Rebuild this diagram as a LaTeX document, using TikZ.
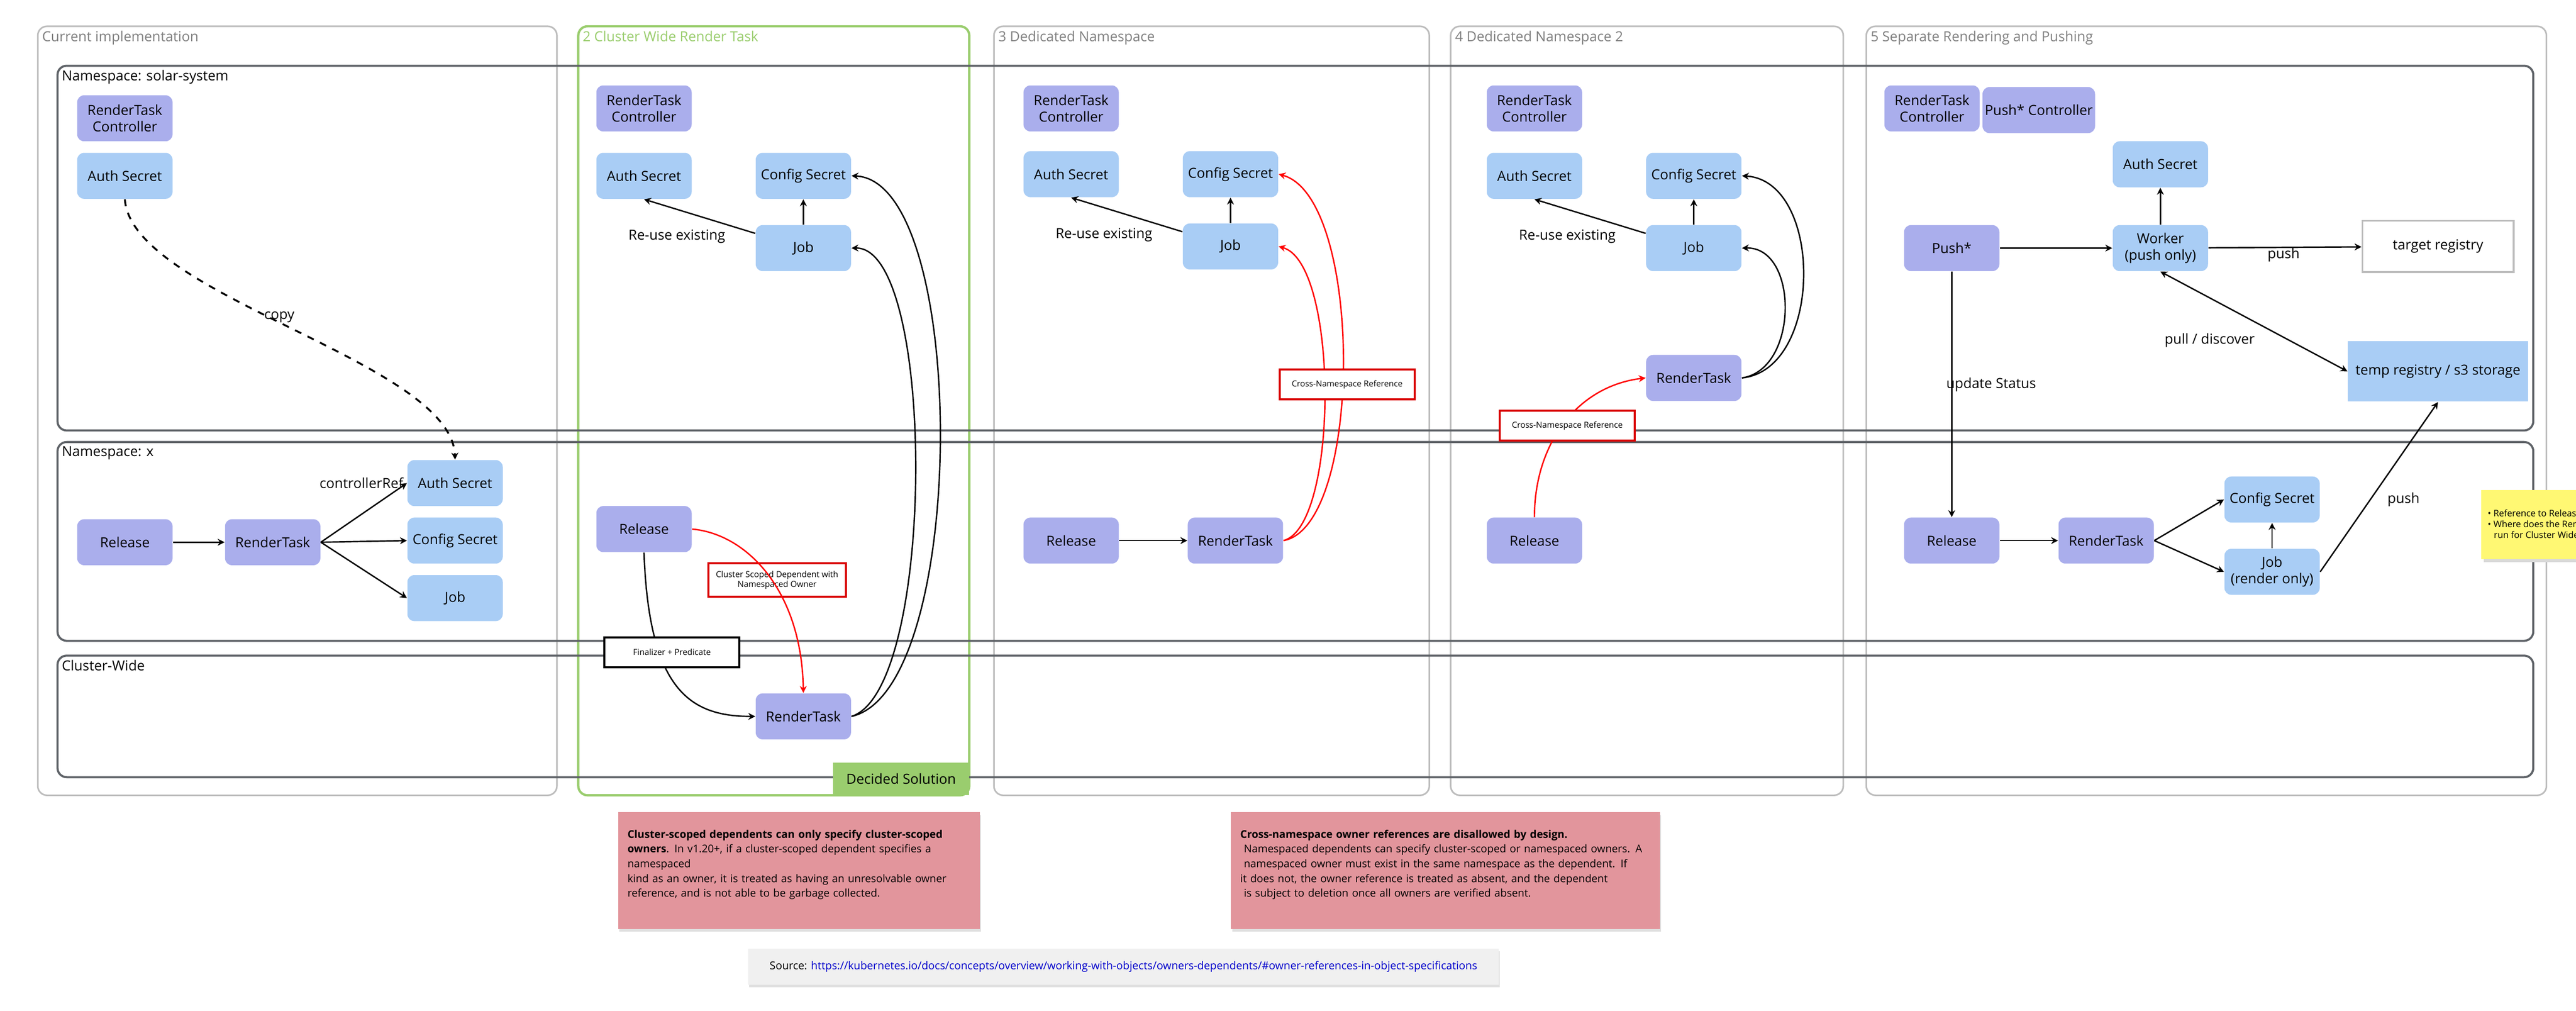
\documentclass[tikz,border=0pt]{standalone}
\usepackage{fontspec}
\setmainfont{Open Sans}
\usetikzlibrary{arrows.meta,positioning}
\definecolor{purp}{HTML}{AAAEEC}
\definecolor{blu}{HTML}{A9CDF5}
\definecolor{pinkbox}{HTML}{E2959C}
\definecolor{frame}{HTML}{BDBDBD}
\definecolor{band}{HTML}{5F6368}
\definecolor{okgreen}{HTML}{9ACD6E}
\tikzset{
  res/.style={rounded corners=3pt,minimum width=1.45cm,minimum height=0.7cm,align=center,font=\fontsize{6}{7}\selectfont,inner sep=1pt},
  ctrl/.style={res,fill=purp},
  obj/.style={res,fill=blu},
  lbl/.style={font=\fontsize{6}{7}\selectfont},
  tag/.style={draw=#1,line width=0.9pt,fill=white,minimum width=2.05cm,minimum height=0.45cm,align=center,font=\fontsize{3.6}{4.3}\selectfont},
  arr/.style={-{Stealth[length=3pt,width=3pt]},line width=0.6pt},
  col/.style={draw=frame,rounded corners=4pt,line width=0.7pt},
  ns/.style={draw=band,rounded corners=4pt,line width=0.9pt},
  ttl/.style={anchor=north west,font=\fontsize{6}{7}\selectfont,inner sep=1pt,text=#1},
  ttl/.default=gray,
  remark/.style={anchor=north west,text width=#1,align=left,font=\fontsize{4.6}{6.4}\selectfont}
}
\begin{document}
\hyphenpenalty=10000
\begin{tikzpicture}[x=0.025cm,y=-0.025cm]
\useasboundingbox (0,0) rectangle (1568,615);

% columns
\draw[col] (23,16) rectangle (339,484);
\draw[col,draw=okgreen,line width=1pt] (352,16) rectangle (590,484);
\draw[col] (605,16) rectangle (870,484);
\draw[col] (883,16) rectangle (1122,484);
\draw[col] (1136,16) rectangle (1550,484);
\node[ttl] at (24,17) {Current implementation};
\node[ttl=okgreen] at (353,17) {2 Cluster Wide Render Task};
\node[ttl] at (606,17) {3 Dedicated Namespace};
\node[ttl] at (884,17) {4 Dedicated Namespace 2};
\node[ttl] at (1137,17) {5 Separate Rendering and Pushing};

% namespaces
\draw[ns] (35,40) rectangle (1542,262);
\draw[ns] (35,269) rectangle (1542,390);
\draw[ns] (35,399) rectangle (1542,473);
\node[ttl=black] at (36,41) {Namespace: solar-system};
\node[ttl=black] at (36,270) {Namespace: x};
\node[ttl=black] at (36,400) {Cluster-Wide};

\node[fill=okgreen,minimum width=2.07cm,minimum height=0.5cm,font=\fontsize{6}{7}\selectfont] (decided) at (548.5,474) {Decided Solution};

% 1 current implementation
\node[ctrl] (ctlA) at (76,72) {RenderTask\\Controller};
\node[obj] (authA) at (76,107) {Auth Secret};
\node[ctrl] (relA) at (76,330) {Release};
\node[ctrl] (rtA) at (166,330) {RenderTask};
\node[obj] (authXA) at (277,294) {Auth Secret};
\node[obj] (cfgA) at (277,329) {Config Secret};
\node[obj] (jobA) at (277,364) {Job};
\draw[arr] (relA) -- (rtA);
\draw[arr] (rtA.east) -- (authXA.west);
\draw[arr] (rtA.east) -- (cfgA.west);
\draw[arr] (rtA.east) -- (jobA.west);
\node[lbl] at (220,294) {controllerRef};
\draw[arr,dashed,line width=0.8pt] (authA.south) .. controls (80,180) and (275,220) .. (authXA.north);
\node[lbl] at (170,193) {copy};

% 2 cluster wide render task
\node[ctrl] (ctlB) at (392,66) {RenderTask\\Controller};
\node[obj] (authB) at (392,107) {Auth Secret};
\node[obj] (cfgB) at (489,107) {Config Secret};
\node[obj] (jobB) at (489,151) {Job};
\node[ctrl] (relB) at (392,322) {Release};
\node[ctrl] (rtB) at (489,436) {RenderTask};
\draw[arr] (jobB) -- (authB.south);
\node[lbl] at (412,144) {Re-use existing};
\draw[arr] (jobB) -- (cfgB);
\draw[arr] (rtB.east) .. controls (590,420) and (590,110) .. (cfgB.east);
\draw[arr] (rtB.east) .. controls (570,420) and (570,150) .. (jobB.east);
\draw[arr] (relB.south) .. controls (395,420) and (420,436) .. (rtB.west);
\node[tag=red!85!black] (scoped) at (473,353) {Cluster Scoped Dependent with\\Namespaced Owner};
\draw[arr,red] (relB.east) .. controls (455,325) and (488,360) .. (rtB.north);
\node[tag=black] (fin) at (409,397) {Finalizer + Predicate};

% 3 dedicated namespace
\node[ctrl] (ctlC) at (652,66) {RenderTask\\Controller};
\node[obj] (authC) at (652,106) {Auth Secret};
\node[obj] (cfgC) at (749,106) {Config Secret};
\node[obj] (jobC) at (749,150) {Job};
\node[ctrl] (relC) at (652,329) {Release};
\node[ctrl] (rtC) at (752,329) {RenderTask};
\draw[arr] (jobC) -- (authC.south);
\node[lbl] at (672,143) {Re-use existing};
\draw[arr] (jobC) -- (cfgC);
\draw[arr] (relC) -- (rtC);
\draw[arr,red] (rtC.east) .. controls (830,320) and (830,120) .. (cfgC.east);
\draw[arr,red] (rtC.east) .. controls (815,320) and (815,160) .. (jobC.east);
\node[tag=red!85!black] (xnsC) at (820,234) {Cross-Namespace Reference};

% 4 dedicated namespace 2
\node[ctrl] (ctlD) at (934,66) {RenderTask\\Controller};
\node[obj] (authD) at (934,107) {Auth Secret};
\node[obj] (cfgD) at (1031,107) {Config Secret};
\node[obj] (jobD) at (1031,151) {Job};
\node[ctrl] (rtD) at (1031,230) {RenderTask};
\node[ctrl] (relD) at (934,329) {Release};
\draw[arr] (jobD) -- (authD.south);
\node[lbl] at (954,144) {Re-use existing};
\draw[arr] (jobD) -- (cfgD);
\draw[arr] (rtD.east) .. controls (1110,225) and (1110,110) .. (cfgD.east);
\draw[arr] (rtD.east) .. controls (1095,225) and (1095,150) .. (jobD.east);
\draw[arr,red] (relD.north) .. controls (934,270) and (960,235) .. (rtD.west);
\node[tag=red!85!black] (xnsD) at (954,259) {Cross-Namespace Reference};

% 5 separate rendering and pushing
\node[ctrl] (ctlE) at (1176,66) {RenderTask\\Controller};
\node[ctrl] (pctl) at (1241,67) {Push* Controller};
\node[obj] (authE) at (1315,100) {Auth Secret};
\node[ctrl] (push) at (1188,151) {Push*};
\node[obj] (worker) at (1315,151) {Worker\\(push only)};
\node[draw=frame,line width=0.8pt,minimum width=2.3cm,minimum height=0.78cm,font=\fontsize{6}{7}\selectfont] (target) at (1484,150) {target registry};
\node[fill=blu,minimum width=2.45cm,minimum height=0.92cm,font=\fontsize{6}{7}\selectfont] (temp) at (1484,226) {temp registry / s3 storage};
\node[ctrl] (relE) at (1188,329) {Release};
\node[ctrl] (rtE) at (1282,329) {RenderTask};
\node[obj] (cfgE) at (1383,304) {Config Secret};
\node[obj] (jobE) at (1383,348) {Job\\(render only)};
\draw[arr] (push) -- (worker);
\draw[arr] (worker) -- (authE);
\draw[arr] (worker) -- (target);
\node[lbl] at (1390,155) {push};
\draw[{Stealth[length=3pt,width=3pt]}-{Stealth[length=3pt,width=3pt]},line width=0.6pt] (worker.south) -- (temp.west);
\node[lbl] at (1345,207) {pull / discover};
\draw[arr] (push) -- (relE);
\node[lbl] at (1212,234) {update Status};
\draw[arr] (relE) -- (rtE);
\draw[arr] (rtE.east) -- (cfgE.west);
\draw[arr] (rtE.east) -- (jobE.west);
\draw[arr] (jobE) -- (cfgE);
\draw[arr] (jobE.east) -- (temp.south);
\node[lbl] at (1463,304) {push};

% sticky note
\fill[black!15] (1512,300) rectangle (1570,342);
\node[fill=yellow!55,minimum width=1.45cm,minimum height=1.05cm,anchor=north west,inner sep=0pt] (note) at (1510,298) {};
\node[anchor=west,align=left,font=\fontsize{3.9}{4.7}\selectfont,inner sep=0pt] at (1514,319) {\textbullet\ Reference to Release?\\\textbullet\ Where does the Render Jo\\\ \ \,run for Cluster Wide API?};

% remarks
\fill[black!12] (377,496) rectangle (597,567);
\node[fill=pinkbox,minimum width=5.5cm,minimum height=1.775cm,anchor=north west,inner sep=0pt] (remA) at (376,494) {};
\node[remark=5.4cm] at (377,500) {\textbf{Cluster-scoped dependents can only specify cluster-scoped owners}. In v1.20+, if a cluster-scoped dependent specifies a namespaced\\kind as an owner, it is treated as having an unresolvable owner reference, and is not able to be garbage collected.};
\fill[black!12] (750,496) rectangle (1011,567);
\node[fill=pinkbox,minimum width=6.525cm,minimum height=1.775cm,anchor=north west,inner sep=0pt] (remB) at (749,494) {};
\node[remark=6.45cm] at (750,500) {\textbf{Cross-namespace owner references are disallowed by design.}\\\ Namespaced dependents can specify cluster-scoped or namespaced owners. A\\\ namespaced owner must exist in the same namespace as the dependent. If\\it does not, the owner reference is treated as absent, and the dependent\\\ is subject to deletion once all owners are verified absent.};
\fill[black!12] (456,579) rectangle (913,601);
\node[fill=black!6,minimum width=11.425cm,minimum height=0.55cm,anchor=north west,inner sep=0pt] (src) at (455,577) {};
\node[font=\fontsize{4.7}{6}\selectfont] at (src.center) {Source: \textcolor{blue!80!black}{https://kubernetes.io/docs/concepts/overview/working-with-objects/owners-dependents/\#owner-references-in-object-specifications}};
\end{tikzpicture}
\end{document}
